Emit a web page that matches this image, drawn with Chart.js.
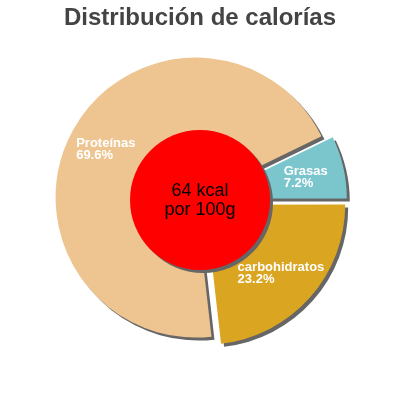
<!DOCTYPE html>
<html>
<head>
<meta charset="utf-8">
<script src="https://cdn.jsdelivr.net/npm/chart.js@4"></script>
<style>
  html, body { margin: 0; padding: 0; background: #ffffff; }
  #wrap { width: 400px; height: 400px; }
</style>
</head>
<body>
<div id="wrap"><canvas id="c" width="400" height="400"></canvas></div>
<script>
const titleText = 'Distribución de calorías';
const categories = ['Proteínas', 'Grasas', 'carbohidratos'];
const percentValues = [69.6, 7.2, 23.2];
const percentLabels = ['69.6%', '7.2%', '23.2%'];
const centerLines = ['64 kcal', 'por 100g'];

const sliceColors = ['#EEC591', '#7BC5CD', '#DAA520'];
const sliceShift = [5, 7, 7];

function shiftOf(arc, i) {
  const a = (arc.startAngle + arc.endAngle) / 2;
  return { dx: Math.cos(a) * sliceShift[i], dy: Math.sin(a) * sliceShift[i], a };
}

const shadowPlugin = {
  id: 'shadow',
  beforeDatasetsDraw(chart) {
    const ctx = chart.ctx;
    ctx.save();
    ctx.shadowColor = '#666666';
    ctx.shadowOffsetX = 3;
    ctx.shadowOffsetY = 3;
    ctx.shadowBlur = 0;
  },
  beforeDatasetDraw(chart, args) {
    const ctx = chart.ctx;
    const meta = args.meta;
    meta.data.forEach((arc, i) => {
      const s = shiftOf(arc, i);
      ctx.save();
      ctx.translate(s.dx, s.dy);
      arc.draw(ctx);
      ctx.restore();
    });
    return false;
  },
  afterDatasetsDraw(chart) {
    const ctx = chart.ctx;
    const arc = chart.getDatasetMeta(0).data[0];
    ctx.beginPath();
    ctx.arc(arc.x, arc.y, arc.outerRadius / 2, 0, Math.PI * 2);
    ctx.fillStyle = '#FF0000';
    ctx.fill();
    ctx.restore();
  }
};

const labelPlugin = {
  id: 'sliceLabels',
  afterDatasetsDraw(chart) {
    const ctx = chart.ctx;
    const meta = chart.getDatasetMeta(0);
    ctx.save();
    ctx.font = 'bold 13px "Liberation Sans", Arial, sans-serif';
    ctx.fillStyle = '#ffffff';
    ctx.textAlign = 'left';
    ctx.textBaseline = 'alphabetic';
    meta.data.forEach((arc, i) => {
      const s = shiftOf(arc, i);
      const r = arc.outerRadius * 0.75 + sliceShift[i] / 2;
      const px = arc.x + Math.cos(s.a) * r;
      const py = arc.y + Math.sin(s.a) * r;
      const l1 = categories[i], l2 = percentLabels[i];
      const w = Math.max(ctx.measureText(l1).width, ctx.measureText(l2).width);
      const x = px - w / 2;
      ctx.fillText(l1, x, py - 1);
      ctx.fillText(l2, x, py + 11);
    });
    const c = meta.data[0];
    ctx.font = '18px "Liberation Sans", Arial, sans-serif';
    ctx.fillStyle = '#000000';
    ctx.textAlign = 'center';
    ctx.fillText(centerLines[0], c.x, c.y - 4);
    ctx.fillText(centerLines[1], c.x, c.y + 15);
    ctx.restore();
  }
};

new Chart(document.getElementById('c'), {
  type: 'pie',
  data: {
    labels: categories,
    datasets: [
      {
        data: percentValues,
        backgroundColor: sliceColors,
        borderWidth: 0
      }
    ]
  },
  options: {
    responsive: false,
    animation: false,
    events: [],
    rotation: 173.5,
    radius: 140,
    layout: { padding: { top: 0, bottom: 42.8, left: 0, right: 0 } },
    plugins: {
      legend: { display: false },
      tooltip: { enabled: false },
      title: {
        display: true,
        text: titleText,
        color: '#444444',
        font: { family: '"Liberation Sans", Arial, sans-serif', size: 24, weight: 'bold', lineHeight: 1.2 },
        padding: { top: 4, bottom: 10 }
      }
    }
  },
  plugins: [shadowPlugin, labelPlugin]
});
</script>
</body>
</html>
